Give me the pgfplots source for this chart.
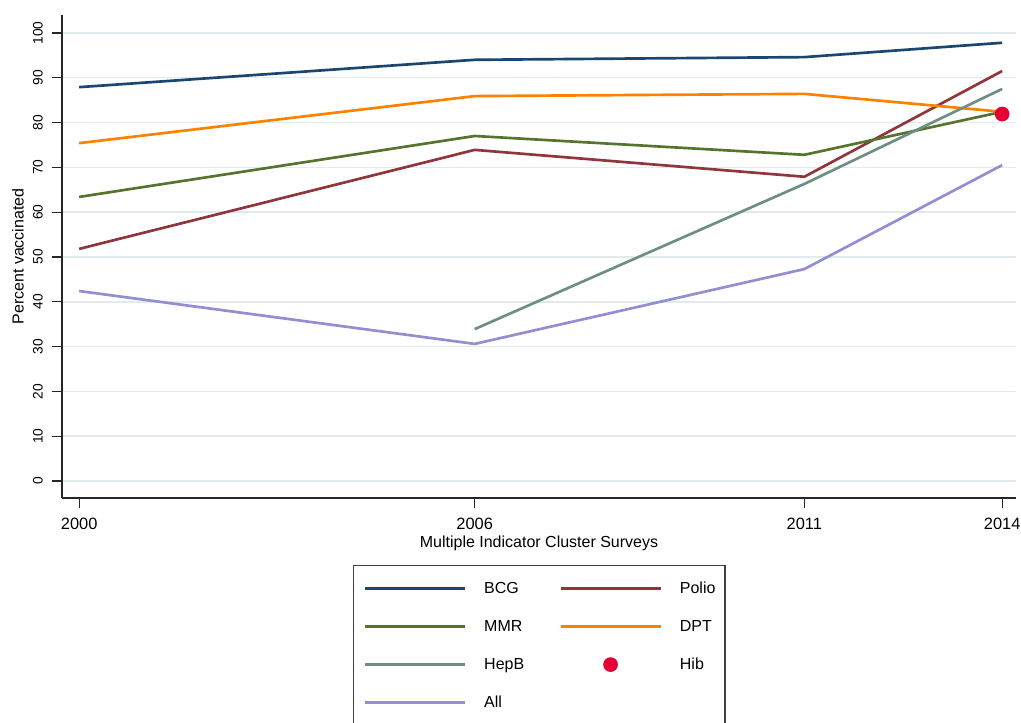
\documentclass[border=0pt]{standalone}
\usepackage{fontspec}
\setmainfont{Liberation Sans}
\usepackage{pgfplots}
\pgfplotsset{compat=1.18}

% Stata s2color-like palette
\definecolor{stnavy}{RGB}{26,71,111}
\definecolor{stmaroon}{RGB}{144,53,59}
\definecolor{stgreen}{RGB}{85,117,47}
\definecolor{storange}{RGB}{250,130,0}
\definecolor{stteal}{RGB}{110,142,132}
\definecolor{stred}{RGB}{228,0,50}
\definecolor{stlav}{RGB}{147,141,210}
\definecolor{stgrid}{RGB}{225,235,238}

\pgfplotsset{
    hib legend/.style={legend image code/.code={%
        \draw[mark repeat=2,mark phase=2,##1] plot coordinates {(0pt,0pt) (37.5pt,0pt) (75pt,0pt)};}},
}

\newcommand{\lefttxt}[1]{\makebox[42.75pt][l]{\rule[-3pt]{0pt}{12pt}#1}}
\newcommand{\righttxt}[1]{\makebox[26.25pt][l]{\rule[-3pt]{0pt}{12pt}#1}}

\begin{document}
\begin{tikzpicture}
\useasboundingbox (0,0) rectangle (765.75pt,541.5pt);
\begin{axis}[
    at={(46.5pt,168pt)}, anchor=south west,
    scale only axis, width=715.5pt, height=362.25pt,
    xmin=1999.74, xmax=2014.21, ymin=-3.79, ymax=104,
    axis lines=left, axis line style={-, line width=1.1pt, black!85},
    tick align=outside, major tick length=7.5pt,
    tick style={line width=0.9pt, black!85},
    xtick={2000,2006,2011,2014}, ytick={0,10,...,100},
    /pgf/number format/1000 sep={},
    /pgf/number format/assume math mode=true,
    xticklabel style={font=\fontsize{12.3}{14}\selectfont, yshift=-3.75pt},
    yticklabel style={font=\fontsize{10.3}{12}\selectfont, rotate=90,
        anchor=south, inner sep=0pt, inner ysep=6.75pt},
    ymajorgrids, major grid style={stgrid, line width=1.1pt},
    xlabel={Multiple Indicator Cluster Surveys},
    ylabel={Percent vaccinated},
    every axis x label/.style={at={(axis description cs:0.5,-0.1035)}, anchor=base,
        font=\fontsize{12}{14}\selectfont},
    every axis y label/.style={at={(axis description cs:-0.0461,0.5)}, rotate=90,
        anchor=center, font=\fontsize{12}{14}\selectfont},
    every axis plot/.append style={line width=2pt},
    legend columns=2,
    legend cell align=left,
    legend image code/.code={\draw[#1] (0pt,0pt) -- (75pt,0pt);},
    legend style={at={(0.305,-0.1387)}, anchor=north west,
        draw=black!75, line width=0.9pt,
        inner xsep=7.5pt, inner ysep=12pt,
        column sep=13.5pt, row sep=18pt,
        nodes={inner sep=0pt},
        font=\fontsize{12}{14}\selectfont},
]
\addplot[stnavy] coordinates {(2000,87.9) (2006,94.0) (2011,94.6) (2014,97.8)};
\addlegendentry{\lefttxt{BCG}}
\addplot[stmaroon] coordinates {(2000,51.8) (2006,73.9) (2011,67.9) (2014,91.5)};
\addlegendentry{\righttxt{Polio}}
\addplot[stgreen] coordinates {(2000,63.4) (2006,77.0) (2011,72.8) (2014,82.4)};
\addlegendentry{\lefttxt{MMR}}
\addplot[storange] coordinates {(2000,75.4) (2006,85.9) (2011,86.4) (2014,82.4)};
\addlegendentry{\righttxt{DPT}}
\addplot[stteal] coordinates {(2006,33.9) (2011,66.3) (2014,87.5)};
\addlegendentry{\lefttxt{HepB}}
\addplot[stlav, forget plot] coordinates {(2000,42.4) (2006,30.6) (2011,47.3) (2014,70.5)};
\addplot[only marks, mark=*, mark size=4.5pt, stred, forget plot] coordinates {(2014,81.9)};
% legend entries in the reference order (Hib before All)
\addlegendimage{only marks, mark=*, mark size=4.5pt, stred, hib legend}
\addlegendentry{\righttxt{Hib}}
\addlegendimage{stlav, line width=2pt}
\addlegendentry{\lefttxt{All}}
\end{axis}
\end{tikzpicture}
\end{document}
